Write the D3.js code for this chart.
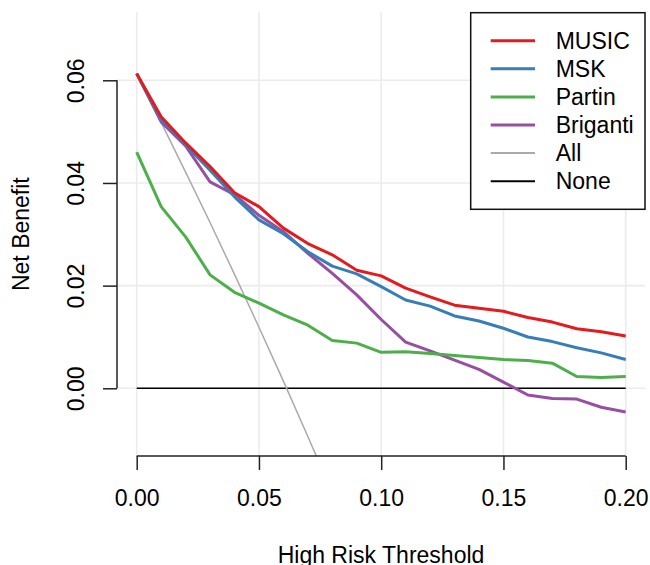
<!DOCTYPE html>
<html>
<head>
<meta charset="utf-8">
<script src="https://cdnjs.cloudflare.com/ajax/libs/d3/7.8.5/d3.min.js"></script>
<style>
  body { margin: 0; background: #fff; }
  svg { font-family: "Liberation Sans", Arial, Helvetica, sans-serif; }
</style>
</head>
<body>
<div id="chart"></div>
<script>
// Umbrales y beneficio neto
const thresholds = [0, 0.01, 0.02, 0.03, 0.04, 0.05, 0.06, 0.07, 0.08, 0.09, 0.10,
                    0.11, 0.12, 0.13, 0.14, 0.15, 0.16, 0.17, 0.18, 0.19, 0.20];
const music = [0.0613, 0.0529, 0.0478, 0.0432, 0.0381, 0.0354, 0.0312, 0.0282, 0.0260, 0.0230, 0.0219,
               0.0195, 0.0178, 0.0162, 0.0156, 0.0150, 0.0138, 0.0129, 0.0116, 0.0110, 0.0102];
const msk = [0.0613, 0.0524, 0.0474, 0.0425, 0.0373, 0.0328, 0.0301, 0.0266, 0.0238, 0.0223, 0.0198,
             0.0172, 0.0160, 0.0141, 0.0131, 0.0117, 0.0100, 0.0091, 0.0079, 0.0069, 0.0056];
const partin = [0.0460, 0.0354, 0.0295, 0.0221, 0.0187, 0.0166, 0.0143, 0.0123, 0.0093, 0.0088, 0.0070,
                0.0071, 0.0068, 0.0064, 0.0060, 0.0056, 0.0054, 0.0049, 0.0023, 0.0021, 0.0023];
const briganti = [0.0613, 0.0519, 0.0472, 0.0402, 0.0377, 0.0337, 0.0305, 0.0263, 0.0224, 0.0182, 0.0134,
                  0.0090, 0.0073, 0.0055, 0.0037, 0.0012, -0.0013, -0.0020, -0.0021, -0.0037, -0.0046];
const all = [0.0613, 0.0518, 0.0421, 0.0323, 0.0222, 0.0119, 0.0014, -0.0094, -0.0204, -0.0315, -0.0430,
             -0.0547, -0.0667, -0.0789, -0.0915, -0.1044, -0.1175, -0.1309, -0.1447, -0.1589, -0.1734];
const none = [0, 0, 0, 0, 0, 0, 0, 0, 0, 0, 0, 0, 0, 0, 0, 0, 0, 0, 0, 0, 0];

const seriesNames = ["MUSIC", "MSK", "Partin", "Briganti", "All", "None"];
const seriesValues = [music, msk, partin, briganti, all, none];
const colors = ["#E41A1C", "#377EB8", "#4DAF4A", "#984EA3", "#AAAAAA", "#000000"];
const widths = [3, 3, 3, 3, 1.5, 1.5];

const xTicks = [0, 0.05, 0.10, 0.15, 0.20];
const yTicks = [0, 0.02, 0.04, 0.06];

const WIDTH = 650, HEIGHT = 565;
const plot = { left: 117, right: 645, top: 12.3, bottom: 456 };
const FONT = "23px";

const svg = d3.select("#chart").append("svg")
    .attr("width", WIDTH)
    .attr("height", HEIGHT);

const x = d3.scaleLinear().domain([0, 0.2]).range([136.7, 625.7]);
const y = d3.scaleLinear().domain([0, 0.06]).range([388.3, 80.3]);

// Grillas
svg.append("g").selectAll("line")
    .data(xTicks)
    .join("line")
    .attr("x1", d => x(d)).attr("x2", d => x(d))
    .attr("y1", plot.top).attr("y2", plot.bottom)
    .attr("stroke", "#ebebeb").attr("stroke-width", 1.6);

svg.append("g").selectAll("line")
    .data(yTicks)
    .join("line")
    .attr("x1", plot.left).attr("x2", plot.right)
    .attr("y1", d => y(d)).attr("y2", d => y(d))
    .attr("stroke", "#ebebeb").attr("stroke-width", 1.6);

// Recorte de la region del grafico
svg.append("clipPath").attr("id", "clip")
  .append("rect")
    .attr("x", plot.left).attr("y", plot.top)
    .attr("width", plot.right - plot.left).attr("height", plot.bottom - plot.top);

const line = d3.line()
    .x((d, i) => x(thresholds[i]))
    .y(d => y(d));

// Dibujar None y All primero, luego los modelos
const order = [5, 4, 3, 2, 1, 0];
svg.append("g").attr("clip-path", "url(#clip)")
  .selectAll("path")
  .data(order)
  .join("path")
    .attr("d", k => line(seriesValues[k]))
    .attr("fill", "none")
    .attr("stroke", k => colors[k])
    .attr("stroke-width", k => widths[k])
    .attr("stroke-linejoin", "round");

// Eje x
const xAxis = svg.append("g")
    .attr("transform", `translate(0, ${plot.bottom})`)
    .call(d3.axisBottom(x).tickValues(xTicks).tickSize(14).tickPadding(20)
      .tickFormat(d3.format(".2f")));
xAxis.select(".domain").attr("d", `M${x(0)},0H${x(0.2)}`);

// Eje y
const yAxis = svg.append("g")
    .attr("transform", `translate(${plot.left}, 0)`)
    .call(d3.axisLeft(y).tickValues(yTicks).tickSize(14)
      .tickFormat(d3.format(".2f")));
yAxis.select(".domain").attr("d", `M0,${y(0)}V${y(0.06)}`);
yAxis.selectAll(".tick text")
    .attr("x", null).attr("dy", null)
    .attr("transform", "translate(-33,0) rotate(-90)")
    .attr("text-anchor", "middle");

svg.selectAll(".domain, .tick line")
    .attr("stroke", "#222").attr("stroke-width", 1.5);
svg.selectAll(".tick text")
    .attr("fill", "#000")
    .style("font-size", FONT)
    .style("font-family", "'Liberation Sans', Arial, sans-serif");

// Titulos
svg.append("text")
    .attr("x", (plot.left + plot.right) / 2)
    .attr("y", 563.2)
    .attr("text-anchor", "middle")
    .style("font-size", FONT)
    .text("High Risk Threshold");

svg.append("text")
    .attr("transform", `translate(28.5, ${(plot.top + plot.bottom) / 2}) rotate(-90)`)
    .attr("text-anchor", "middle")
    .style("font-size", FONT)
    .text("Net Benefit");

// Leyenda
const legend = svg.append("g");
legend.append("rect")
    .attr("x", 470.7).attr("y", 12.7)
    .attr("width", 174.3).attr("height", 196.6)
    .attr("fill", "#fff")
    .attr("stroke", "#111").attr("stroke-width", 1.5);

const rows = legend.selectAll(".row")
    .data(seriesNames)
    .join("g")
    .attr("class", "row")
    .attr("transform", (d, i) => `translate(0, ${40.7 + i * 28.1})`);

rows.append("line")
    .attr("x1", 490.7).attr("x2", 535)
    .attr("stroke", (d, i) => colors[i])
    .attr("stroke-width", (d, i) => widths[i] === 3 ? 3 : 2);

rows.append("text")
    .attr("x", 555.7)
    .attr("y", 8.2)
    .style("font-size", FONT)
    .text(d => d);
</script>
</body>
</html>
